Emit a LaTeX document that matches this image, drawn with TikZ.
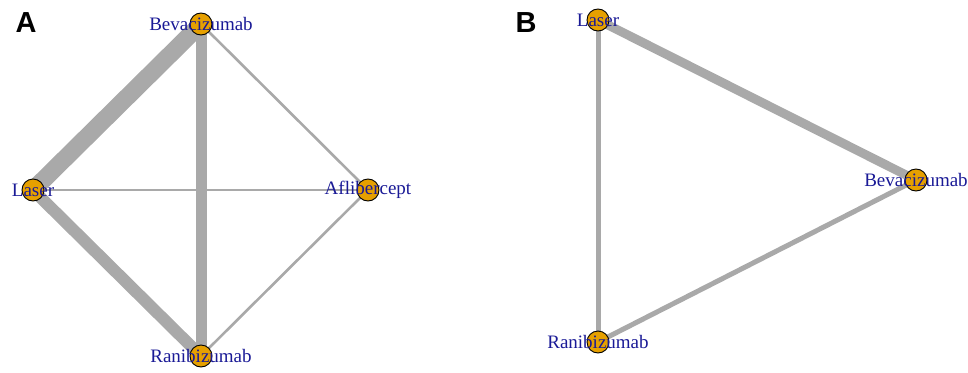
\documentclass[tikz,border=0pt]{standalone}
\usepackage{fontspec}
\setmainfont{Liberation Serif}
\newfontfamily\panelfont{Liberation Sans}
\definecolor{edgegray}{RGB}{169,169,169}
\definecolor{nodeorange}{RGB}{230,160,0}
\definecolor{labelblue}{RGB}{26,26,150}
\begin{document}
\begin{tikzpicture}[x=1pt,y=-1pt,
  vtx/.style={circle,draw=black,line width=0.9pt,fill=nodeorange,minimum size=22pt,inner sep=0pt},
  vlabel/.style={text=labelblue,font=\fontsize{19}{21}\selectfont,inner sep=0pt},
  edge/.style={draw=edgegray},
  panel/.style={font=\panelfont\bfseries\fontsize{29}{30}\selectfont,inner sep=0pt}]
\useasboundingbox (0,0) rectangle (968,372);
% Panel A nodes
\coordinate (aB) at (201,24);
\coordinate (aL) at (33,190);
\coordinate (aA) at (368,190);
\coordinate (aR) at (201,356);
% Panel B nodes
\coordinate (bL) at (598,20);
\coordinate (bB) at (916,180);
\coordinate (bR) at (598,342);
% edges A
\draw[edge,line width=17.5pt] (aB) -- (aL);
\draw[edge,line width=12pt] (aL) -- (aR);
\draw[edge,line width=11pt] (aB) -- (aR);
\draw[edge,line width=2.6pt] (aB) -- (aA);
\draw[edge,line width=2.6pt] (aL) -- (aA);
\draw[edge,line width=2.6pt] (aR) -- (aA);
% edges B
\draw[edge,line width=9pt] (bL) -- (bB);
\draw[edge,line width=5pt] (bL) -- (bR);
\draw[edge,line width=5pt] (bR) -- (bB);
% vertices
\node[vtx] (naB) at (aB) {};
\node[vtx] (naL) at (aL) {};
\node[vtx] (naA) at (aA) {};
\node[vtx] (naR) at (aR) {};
\node[vtx] (nbL) at (bL) {};
\node[vtx] (nbB) at (bB) {};
\node[vtx] (nbR) at (bR) {};
% labels
\node[vlabel] (laB) at (aB) {Bevacizumab};
\node[vlabel] (laL) at (aL) {Laser};
\node[vlabel] (laA) at (aA) {Aflibercept};
\node[vlabel] (laR) at (aR) {Ranibizumab};
\node[vlabel] (lbL) at (bL) {Laser};
\node[vlabel] (lbB) at (bB) {Bevacizumab};
\node[vlabel] (lbR) at (bR) {Ranibizumab};
% panel letters
\node[panel] (pA) at (26,23) {A};
\node[panel] (pB) at (526,23) {B};
\end{tikzpicture}
\end{document}
